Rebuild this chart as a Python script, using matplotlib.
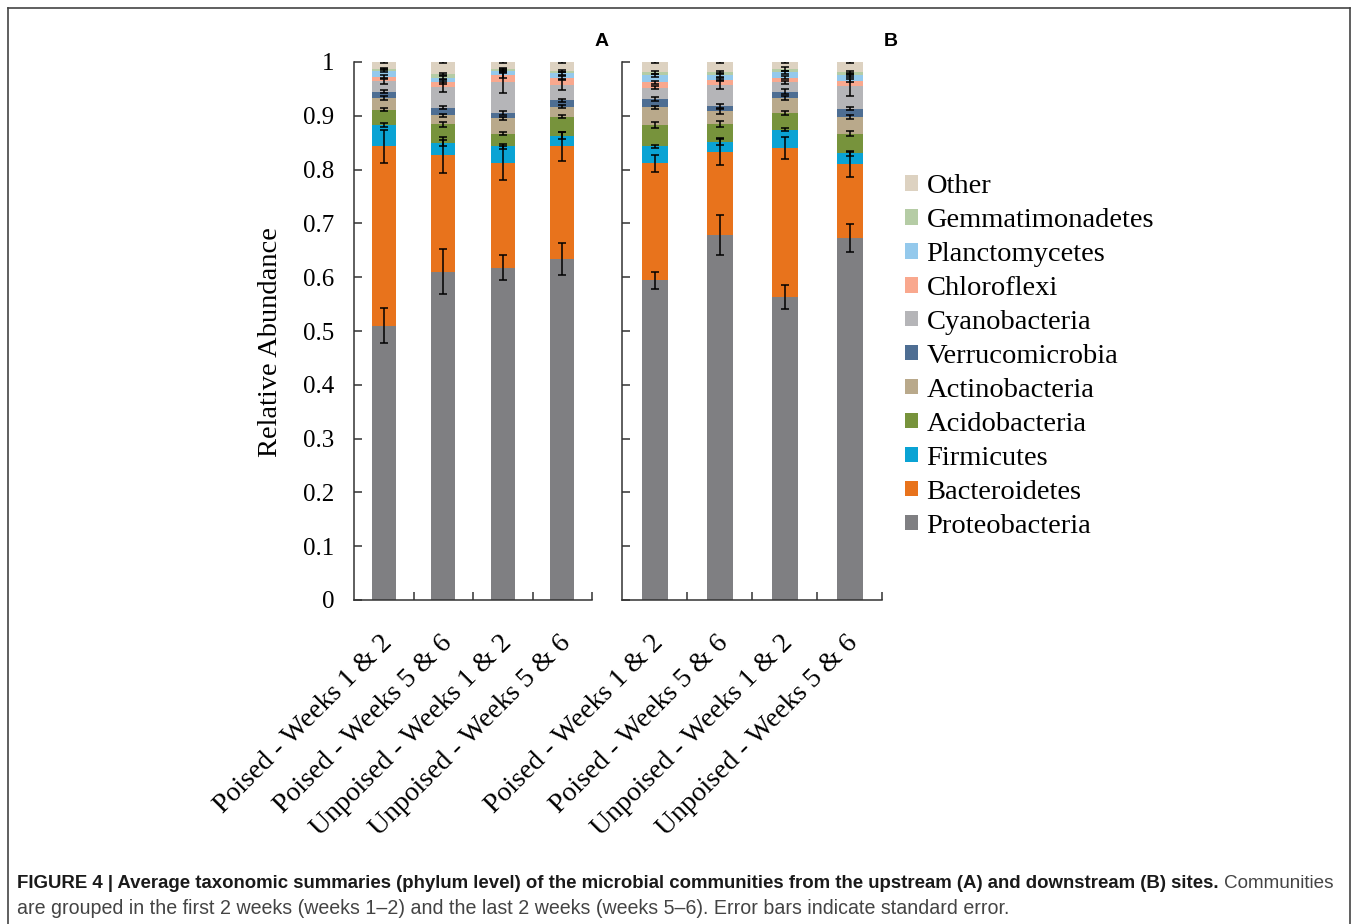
# stacked phylum summaries, upstream (A) vs downstream (B)
import matplotlib
matplotlib.use("Agg")
import matplotlib.pyplot as plt
import numpy as np
from matplotlib.patches import Patch
from matplotlib.lines import Line2D
from matplotlib.transforms import ScaledTranslation

phyla = ["Proteobacteria", "Bacteroidetes", "Firmicutes", "Acidobacteria",
         "Actinobacteria", "Verrucomicrobia", "Cyanobacteria", "Chloroflexi",
         "Planctomycetes", "Gemmatimonadetes", "Other"]
colors = ["#7f7f82", "#e8731c", "#0aa3d4", "#77933c", "#b9a98b", "#4e6e93",
          "#b5b5b8", "#f9a88e", "#94c9ec", "#b5cca5", "#ddd2c1"]
groups = ["Poised - Weeks 1 & 2", "Poised - Weeks 5 & 6",
          "Unpoised - Weeks 1 & 2", "Unpoised - Weeks 5 & 6"]

# relative abundance per bar, in phyla order (bottom to top)
up_p12 = [0.510, 0.333, 0.040, 0.028, 0.022, 0.012, 0.019, 0.009, 0.011, 0.003, 0.013]
up_p56 = [0.610, 0.217, 0.022, 0.035, 0.017, 0.014, 0.038, 0.010, 0.008, 0.006, 0.023]
up_u12 = [0.618, 0.194, 0.031, 0.024, 0.028, 0.010, 0.058, 0.012, 0.009, 0.003, 0.013]
up_u56 = [0.634, 0.209, 0.020, 0.035, 0.019, 0.012, 0.029, 0.012, 0.009, 0.004, 0.017]
down_p12 = [0.594, 0.218, 0.031, 0.040, 0.033, 0.015, 0.021, 0.010, 0.013, 0.006, 0.019]
down_p56 = [0.679, 0.154, 0.018, 0.034, 0.023, 0.010, 0.040, 0.009, 0.009, 0.005, 0.019]
down_u12 = [0.563, 0.277, 0.034, 0.031, 0.028, 0.012, 0.017, 0.009, 0.010, 0.006, 0.013]
down_u56 = [0.673, 0.137, 0.020, 0.037, 0.031, 0.015, 0.043, 0.009, 0.011, 0.005, 0.019]

# standard errors
up_p12_se = [0.033, 0.031, 0.004, 0.003, 0.003, 0.003, 0.004, 0.003, 0.003, 0.002, 0.002]
up_p56_se = [0.042, 0.033, 0.006, 0.004, 0.003, 0.003, 0.009, 0.003, 0.003, 0.002, 0.002]
up_u12_se = [0.023, 0.032, 0.004, 0.003, 0.003, 0.003, 0.021, 0.004, 0.003, 0.002, 0.002]
up_u56_se = [0.030, 0.027, 0.006, 0.003, 0.003, 0.003, 0.010, 0.004, 0.003, 0.002, 0.002]
down_p12_se = [0.016, 0.016, 0.003, 0.005, 0.003, 0.004, 0.003, 0.003, 0.003, 0.003, 0.002]
down_p56_se = [0.037, 0.025, 0.005, 0.005, 0.004, 0.004, 0.009, 0.003, 0.003, 0.003, 0.002]
down_u12_se = [0.023, 0.020, 0.003, 0.003, 0.003, 0.004, 0.003, 0.003, 0.003, 0.003, 0.002]
down_u56_se = [0.026, 0.023, 0.004, 0.004, 0.004, 0.003, 0.019, 0.003, 0.004, 0.003, 0.002]

SERIF = "Liberation Serif"
SANS = "Liberation Sans"
AX_COL = "#333333"

fig = plt.figure(figsize=(13.58, 9.24), dpi=100)
W, H = 1358, 924


def draw_panel(ax, bars, errs, show_labels):
    x = np.arange(len(groups))
    vals = np.array(bars).T
    se = np.array(errs).T
    bottom = np.zeros(len(groups))
    for i, name in enumerate(phyla):
        ax.bar(x, vals[i], 0.4, bottom=bottom, color=colors[i], zorder=2)
        top = bottom + vals[i]
        ax.errorbar(x, top, yerr=se[i], fmt="none", ecolor="black",
                    elinewidth=1.1, capsize=3, capthick=1.1, zorder=3)
        bottom = top
    ax.set_xlim(-0.5, len(groups) - 0.5)
    ax.set_ylim(0, 1)
    ax.set_yticks(np.arange(0, 1.01, 0.1))
    if show_labels:
        ax.set_yticklabels(["0"] + ["%.1f" % v for v in np.arange(0.1, 0.95, 0.1)] + ["1"],
                           family=SERIF, fontsize=18)
    else:
        ax.set_yticklabels([])
    ax.tick_params(axis="y", direction="in", length=6, width=1.1, color=AX_COL, pad=14)
    ax.set_xticks(x)
    ax.set_xticklabels(groups, rotation=45, ha="right", va="top",
                       rotation_mode="anchor", family=SERIF, fontsize=20)
    ax.tick_params(axis="x", which="major", length=0, pad=22)
    ax.set_xticks(np.arange(0.5, len(groups)), minor=True)
    ax.tick_params(axis="x", which="minor", direction="in", length=6, width=1.1, color=AX_COL)
    for lab in ax.get_xticklabels():
        lab.set_transform(lab.get_transform() + ScaledTranslation(-0.04, 0, fig.dpi_scale_trans))
    for s in ["top", "right"]:
        ax.spines[s].set_visible(False)
    for s in ["left", "bottom"]:
        ax.spines[s].set_color(AX_COL)
        ax.spines[s].set_linewidth(1.1)


ax_a = fig.add_axes([354 / W, 1 - 600 / H, 238 / W, 538 / H])
ax_b = fig.add_axes([622 / W, 1 - 600 / H, 260 / W, 538 / H])
draw_panel(ax_a, [up_p12, up_p56, up_u12, up_u56],
           [up_p12_se, up_p56_se, up_u12_se, up_u56_se], True)
draw_panel(ax_b, [down_p12, down_p56, down_u12, down_u56],
           [down_p12_se, down_p56_se, down_u12_se, down_u56_se], False)

ax_a.set_ylabel("Relative Abundance", family=SERIF, fontsize=20.5)
ax_a.yaxis.set_label_coords(-0.30, 0.48)

fig.text(602 / W, 1 - 41 / H, "A", family=SANS, weight="bold", fontsize=14,
         ha="center", va="center")
fig.text(891 / W, 1 - 41 / H, "B", family=SANS, weight="bold", fontsize=14,
         ha="center", va="center")

handles = [Patch(facecolor=colors[i], edgecolor="none", label=phyla[i])
           for i in range(len(phyla) - 1, -1, -1)]
fig.legend(handles=handles, loc="upper left", bbox_to_anchor=(905 / W, 1 - 174 / H),
           frameon=False, prop={"family": SERIF, "size": 20.5}, borderpad=0,
           borderaxespad=0, handlelength=0.46, handleheight=0.46,
           handletextpad=0.3, labelspacing=0.315)

# caption with bold lead-in
CAP = "Liberation Sans"
t1 = fig.text(17 / W, 1 - 883 / H,
              "FIGURE 4 | Average taxonomic summaries (phylum level) of the microbial "
              "communities from the upstream (A) and downstream (B) sites.",
              family=CAP, weight="bold", fontsize=13.4, color="#1a1a1a",
              va="center", ha="left")
r = fig.canvas.get_renderer()
bb = t1.get_window_extent(renderer=r)
fig.text((bb.x1 + 5) / W, 1 - 883 / H, "Communities", family=CAP,
         fontsize=13.6, color="#444444", va="center", ha="left")
fig.text(17 / W, 1 - 908 / H,
         "are grouped in the first 2 weeks (weeks 1\u20132) and the last 2 weeks "
         "(weeks 5\u20136). Error bars indicate standard error.",
         family=CAP, fontsize=14.1, color="#444444", va="center", ha="left")

# outer frame
for xs, ys in [((8, 1350), (8, 8)), ((8, 8), (8, 924)), ((1350, 1350), (8, 924))]:
    fig.add_artist(Line2D([x / W for x in xs], [1 - y / H for y in ys],
                          color="#444444", linewidth=1.2, transform=fig.transFigure))

fig.savefig("out.png", dpi=100)
